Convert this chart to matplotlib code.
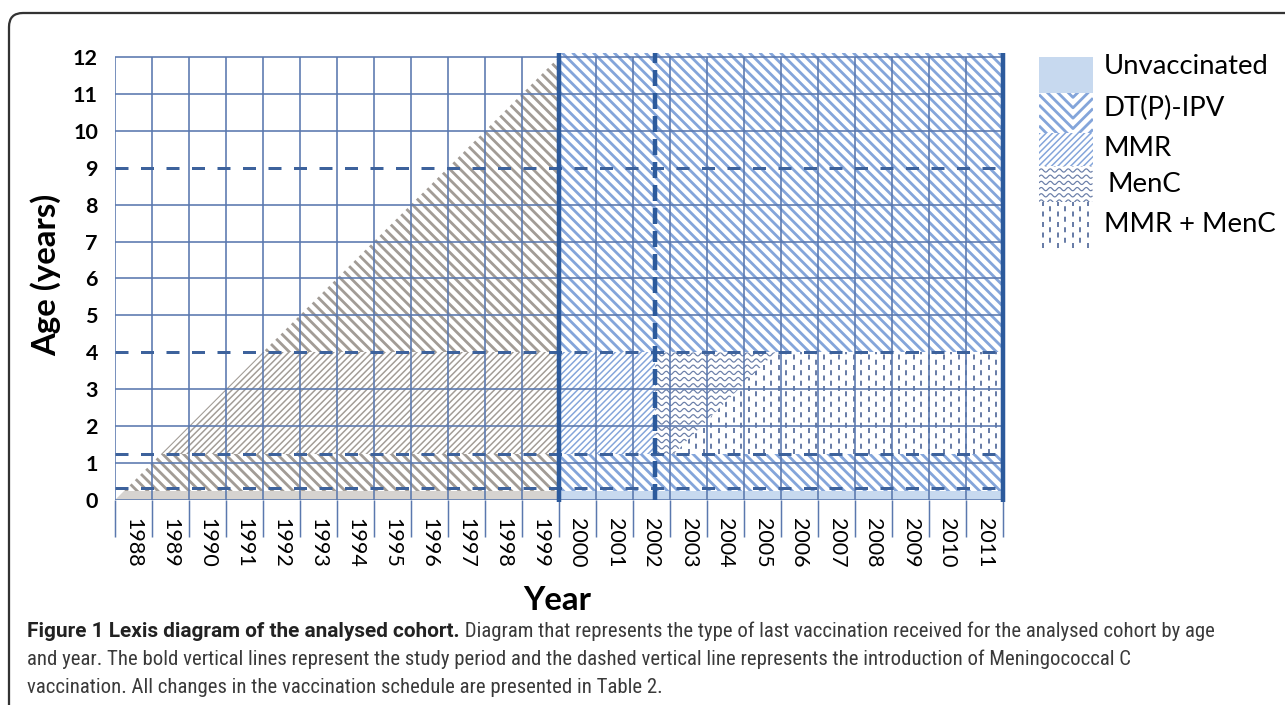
import numpy as np
import matplotlib
matplotlib.use("Agg")
import matplotlib.pyplot as plt
from matplotlib.patches import Polygon, Rectangle, FancyBboxPatch
from matplotlib.collections import LineCollection
from matplotlib.transforms import IdentityTransform

# ---------------- data ----------------
years = list(range(1988, 2012))          # calendar-year columns
ages = list(range(0, 13))                # age ticks
cohort_birth_year = 1988                 # diagonal of the cohort
study_start, study_end = 2000, 2012      # bold vertical lines
menc_intro_year = 2002.6                 # dashed vertical line
menc_cohort_birth = 2001.85              # cohorts getting MMR + MenC together
unvacc_age = 0.25                        # top of unvaccinated band
first_dose_age = 0.33                    # dashed schedule line
mmr_age = 1.25                           # MMR / MenC dose age
booster_ages = [4, 9]                    # DT(P)-IPV boosters (dashed)
max_age = 12
top_age = 12.12

legend_labels = ["Unvaccinated", "DT(P)-IPV", "MMR", "MenC", "MMR + MenC"]
x_title = "Year"
y_title = "Age (years)"
caption_bold = "Figure 1 Lexis diagram of the analysed cohort."
caption_rest = " Diagram that represents the type of last vaccination received for the analysed cohort by age"
caption_lines = [
    "and year. The bold vertical lines represent the study period and the dashed vertical line represents the introduction of Meningococcal C",
    "vaccination. All changes in the vaccination schedule are presented in Table 2.",
]

# ---------------- style ----------------
W, H, DPI = 1285, 705, 125
PT = 72.0 / DPI                      # points per pixel
plt.rcParams["font.family"] = ["Lato", "DejaVu Sans"]
plt.rcParams["lines.scale_dashes"] = False

GRID = "#5a78ae"
DASH = "#3d629c"
BOLD = "#2c5a9c"
BLUE_H = "#84a5da"
GRAY_H = "#a29c96"
BLUE_F = "#c7d9ef"
GRAY_F = "#d6d3d0"
TEX = "#6a7ea8"

fig = plt.figure(figsize=(W / DPI, H / DPI), dpi=DPI)


def px_box(x0, y0, x1, y1):
    return [x0 / W, 1 - y1 / H, (x1 - x0) / W, (y1 - y0) / H]


AX_L, AX_R, AX_B = 115, 1003, 500
XPX = (AX_R - AX_L) / (len(years))      # px per year
YPX = 36.92                              # px per year of age
ax = fig.add_axes(px_box(AX_L, AX_B - top_age * YPX, AX_R, AX_B))
ax.set_xlim(years[0], years[-1] + 1)
ax.set_ylim(0, top_age)
for s in ax.spines.values():
    s.set_visible(False)
AXW, AXH = AX_R - AX_L, top_age * YPX


def main_px2data(xp, yp):
    return years[0] + np.asarray(xp) / XPX, np.asarray(yp) / YPX


def region(axis, poly, face="white", z=1):
    p = Polygon(poly, closed=True, facecolor=face, edgecolor="none", lw=0, zorder=z)
    axis.add_patch(p)
    return p


def stripes(axis, clip, conv, wpx, hpx, direction, period, lw, color):
    segs = []
    if direction == "\\":
        for c in np.arange(0, wpx + hpx + period, period):
            x, y = conv([c, c - hpx], [0, hpx])
            segs.append(np.column_stack([x, y]))
    else:
        for c in np.arange(-hpx, wpx + period, period):
            x, y = conv([c, c + hpx], [0, hpx])
            segs.append(np.column_stack([x, y]))
    lc = LineCollection(segs, colors=color, linewidths=lw * PT, zorder=1.5)
    axis.add_collection(lc)
    lc.set_clip_path(clip)


def waves(axis, clip, conv, wpx, hpx, spacing, amp, wl, lw, color):
    segs = []
    xp = np.arange(0, wpx, 0.5)
    for yr in np.arange(spacing / 2, hpx, spacing):
        x, y = conv(xp, yr + amp * np.sin(2 * np.pi * xp / wl))
        segs.append(np.column_stack([x, y]))
    lc = LineCollection(segs, colors=color, linewidths=lw * PT, zorder=1.5)
    axis.add_collection(lc)
    lc.set_clip_path(clip)


def dashes(axis, clip, conv, wpx, y0, y1, col, on, off, lw, color):
    cols = np.arange(col / 2, wpx, col)
    for k, ph in enumerate([0.0, (on + off) / 2]):
        xs, _ = conv(cols[k::2], np.zeros(len(cols[k::2])))
        lc = axis.vlines(xs, y0, y1, colors=color, linewidth=lw * PT,
                         linestyles=[(ph * PT, (on * PT, off * PT))], zorder=1.5)
        lc.set_capstyle("butt")
        lc.set_clip_path(clip)


def under_diag(y0, y1, birth, xr):
    return [(y0 + birth, y0), (xr, y0), (xr, y1), (y1 + birth, y1)]


def rect(x0, x1, y0, y1):
    return [(x0, y0), (x1, y0), (x1, y1), (x0, y1)]


DTP_P, DTP_W = 10.4, 2.8
MMR_P, MMR_W = 6.4, 1.5
args = (main_px2data, AXW, AXH)

# ---- pre-study period (grey) ----
region(ax, under_diag(0, unvacc_age, cohort_birth_year, study_start), face=GRAY_F)
p = region(ax, under_diag(unvacc_age, mmr_age, cohort_birth_year, study_start))
stripes(ax, p, *args, "\\", DTP_P, DTP_W, GRAY_H)
p = region(ax, under_diag(mmr_age, booster_ages[0], cohort_birth_year, study_start))
stripes(ax, p, *args, "/", MMR_P, MMR_W, GRAY_H)
p = region(ax, under_diag(booster_ages[0], max_age, cohort_birth_year, study_start))
stripes(ax, p, *args, "\\", DTP_P, DTP_W, GRAY_H)

# ---- study period (blue) ----
region(ax, rect(study_start, study_end, 0, unvacc_age), face=BLUE_F)
p = region(ax, rect(study_start, study_end, unvacc_age, mmr_age))
stripes(ax, p, *args, "\\", DTP_P, DTP_W, BLUE_H)
p = region(ax, rect(study_start, menc_intro_year, mmr_age, booster_ages[0]))
stripes(ax, p, *args, "/", MMR_P, MMR_W, BLUE_H)
p = region(ax, rect(study_start, study_end, booster_ages[0], top_age))
stripes(ax, p, *args, "\\", DTP_P, DTP_W, BLUE_H)

menc_poly = [(menc_intro_year, mmr_age), (mmr_age + menc_cohort_birth, mmr_age),
             (booster_ages[0] + menc_cohort_birth, booster_ages[0]), (menc_intro_year, booster_ages[0])]
mm_poly = [(mmr_age + menc_cohort_birth, mmr_age), (study_end, mmr_age),
           (study_end, booster_ages[0]), (booster_ages[0] + menc_cohort_birth, booster_ages[0])]
p = region(ax, menc_poly)
waves(ax, p, *args, 6.2, 1.6, 9.0, 1.2, TEX)
p = region(ax, mm_poly)
dashes(ax, p, main_px2data, AXW, mmr_age, booster_ages[0], 7.5, 5.0, 5.5, 2.0, TEX)

# ---- grid ----
bounds = years + [years[-1] + 1]
thin_v = [b for b in bounds if b not in (study_start, study_end)]
ax.vlines(thin_v, 0, max_age, colors=GRID, linewidth=1.6 * PT, zorder=2)
solid_h = [a for a in ages if a not in booster_ages]
ax.hlines(solid_h, years[0], years[-1] + 1, colors=GRID, linewidth=1.6 * PT, zorder=2)
dash_h = [first_dose_age, mmr_age] + booster_ages
ax.hlines(dash_h, years[0], years[-1] + 1, colors=DASH, linewidth=3.0 * PT,
          linestyles=[(0, (13 * PT, 12.5 * PT))], zorder=3)
ax.vlines([menc_intro_year], 0, top_age, colors=BOLD, linewidth=4.5 * PT,
          linestyles=[(0, (16 * PT, 7 * PT))], zorder=4)
ax.vlines([study_start, study_end], -0.06, top_age, colors=BOLD, linewidth=4.5 * PT,
          zorder=4, clip_on=False)

# ---- ticks ----
ax.set_xticks([y + 0.5 for y in years])
ax.set_xticklabels([str(y) for y in years], rotation=270, fontsize=21.5 * PT, va="top")
ax.set_xticks(bounds, minor=True)
ax.tick_params(axis="x", which="major", length=0, pad=18 * PT)
ax.tick_params(axis="x", which="minor", length=37 * PT, width=1.5 * PT, color=GRID, direction="out")
ax.set_yticks(ages)
ax.set_yticklabels([str(a) for a in ages], fontsize=21.5 * PT, fontweight="bold")
ax.tick_params(axis="y", length=0, pad=17 * PT)

fig.text(557 / W, 1 - 601 / H, x_title, ha="center", va="center", fontsize=33 * PT, fontweight="bold")
fig.text(46 / W, 1 - 275 / H, y_title, ha="center", va="center", rotation=90,
         fontsize=33 * PT, fontweight="bold")

# ---------------- legend ----------------
LX0, LX1, LY0, LY1 = 1039, 1093, 57, 248
lax = fig.add_axes(px_box(LX0, LY0, LX1, LY1))
lax.set_xlim(LX0, LX1)
lax.set_ylim(LY1, LY0)
lax.axis("off")


def leg_px2data(xp, yp):
    return LX0 + np.asarray(xp), LY1 - np.asarray(yp)


LW_, LH_ = LX1 - LX0, LY1 - LY0
bands = [57, 93, 133, 166, 202, 248]
lax.add_patch(Rectangle((LX0, bands[0]), LW_, bands[1] - bands[0], facecolor=BLUE_F, lw=0))
# chevron DT(P)-IPV swatch
clip = Rectangle((LX0, bands[1]), LW_, bands[2] - bands[1], facecolor="none", lw=0)
lax.add_patch(clip)
chev = []
xv = LX0 + 34
for yk in np.arange(bands[1] - 40, bands[2] + 5, DTP_P):
    chev.append([(LX0, yk), (xv, yk + (xv - LX0)), (LX1, yk + (xv - LX0) - (LX1 - xv))])
lc = LineCollection(chev, colors=BLUE_H, linewidths=DTP_W * PT)
lax.add_collection(lc)
lc.set_clip_path(clip)
clip = Rectangle((LX0, bands[2]), LW_, bands[3] - bands[2], facecolor="none", lw=0)
lax.add_patch(clip)
stripes(lax, clip, leg_px2data, LW_, LH_, "/", MMR_P, MMR_W, BLUE_H)
clip = Rectangle((LX0, bands[3]), LW_, bands[4] - bands[3], facecolor="none", lw=0)
lax.add_patch(clip)
waves(lax, clip, leg_px2data, LW_, LH_, 6.2, 1.6, 9.0, 1.2, TEX)
clip = Rectangle((LX0, bands[4]), LW_, bands[5] - bands[4], facecolor="none", lw=0)
lax.add_patch(clip)
dashes(lax, clip, leg_px2data, LW_, bands[5], bands[4], 7.5, 5.0, 5.5, 2.0, TEX)

leg_pos = [(1104, 67), (1104, 108), (1104, 148), (1107, 185), (1104, 225)]
for lab, (lx, ly) in zip(legend_labels, leg_pos):
    fig.text(lx / W, 1 - ly / H, lab, ha="left", va="center", fontsize=27.5 * PT)

# ---------------- caption & frame ----------------
cap_font = ["Roboto Condensed", "Liberation Sans", "DejaVu Sans"]
cap_bold_font = ["Roboto", "Liberation Sans", "DejaVu Sans"]
cap_size = 20.7 * PT
t1 = fig.text(27 / W, 1 - 641 / H, caption_bold, ha="left", va="bottom", fontsize=cap_size,
              fontweight="bold", family=cap_bold_font, color="#222222")
ax.annotate(caption_rest, xy=(1, 0), xycoords=t1, ha="left", va="bottom", fontsize=cap_size,
            family=cap_font, color="#3a3a3a", annotation_clip=False)
for i, line in enumerate(caption_lines):
    fig.text(27 / W, 1 - (669 + 28 * i) / H, line, ha="left", va="bottom", fontsize=cap_size,
             family=cap_font, color="#3a3a3a")

frame = FancyBboxPatch((9, -40), 1400, H - 13 + 40, boxstyle="round,pad=0,rounding_size=14",
                       transform=IdentityTransform(), fill=False, ec="#333333", lw=1.3)
fig.add_artist(frame)

fig.savefig("out.png", dpi=DPI)
